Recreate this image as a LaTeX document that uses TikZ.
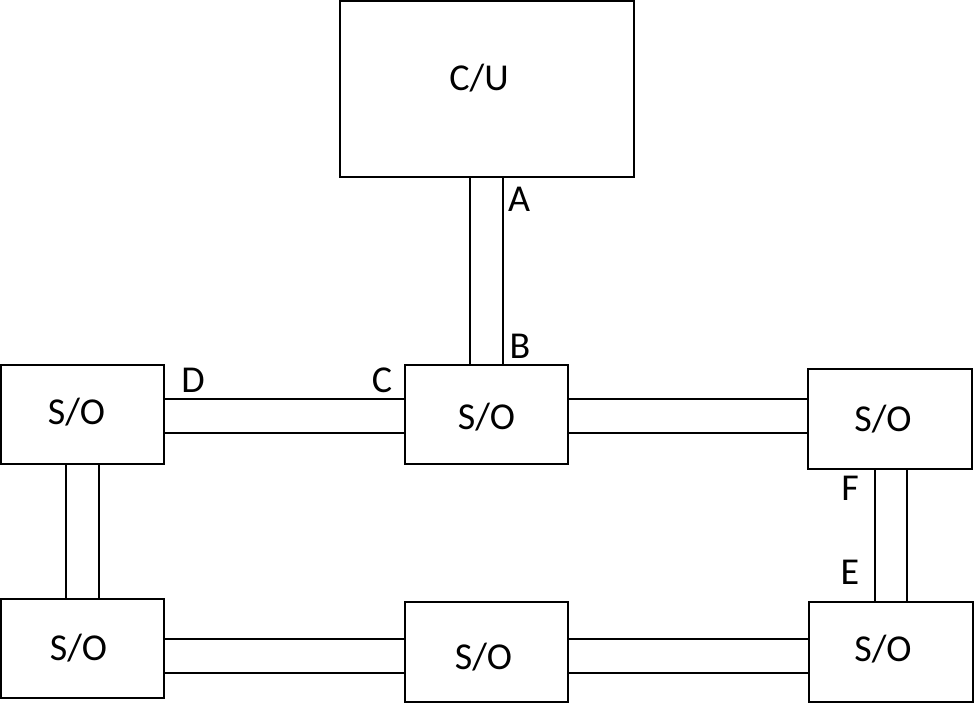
\documentclass[tikz,border=0pt]{standalone}
\usepackage{fontspec}
\setmainfont{Carlito}
\usepackage{tikz}
\usetikzlibrary{positioning}

\begin{document}
\begin{tikzpicture}[
  x=0.75pt, y=-0.75pt,
  every node/.style={font=\fontsize{28.5}{34}\selectfont},
  unit/.style={rectangle, draw, line width=1.2pt, inner sep=0pt, outer sep=0pt, minimum width=122.25pt, minimum height=74.25pt},
  cubox/.style={unit, minimum width=220.5pt, minimum height=132pt},
  pipe/.style={draw, line width=1.2pt},
  tag/.style={inner sep=0pt}
]
\useasboundingbox (0,0) rectangle (974,703);

% control unit and stations
\node[cubox, label={[shift={(-8,-11)}]center:C/U}] (cu) at (487,89) {};
\node[unit, label={[shift={(-6,-2)}]center:S/O}] (so1) at (82.5,414.5) {};
\node[unit, label={[shift={(0,3)}]center:S/O}] (so2) at (486.5,414.5) {};
\node[unit, minimum width=123pt, minimum height=75pt, label={[shift={(-7,0)}]center:S/O}] (so3) at (890,419) {};
\node[unit, label={[shift={(-4,0)}]center:S/O}] (so4) at (82.5,648.5) {};
\node[unit, minimum height=75pt, label={[shift={(-3,5)}]center:S/O}] (so5) at (486.5,652) {};
\node[unit, minimum width=123pt, minimum height=75pt, label={[shift={(-8,-3)}]center:S/O}] (so6) at (891,652) {};

% links (two parallel lines each)
\draw[pipe] (cu.south -| 470,0) -- (so2.north -| 470,0)
            (cu.south -| 503,0) -- (so2.north -| 503,0);
\draw[pipe] (so1.east |- 0,399) -- (so2.west |- 0,399)
            (so1.east |- 0,433) -- (so2.west |- 0,433);
\draw[pipe] (so2.east |- 0,399) -- (so3.west |- 0,399)
            (so2.east |- 0,433) -- (so3.west |- 0,433);
\draw[pipe] (so1.south -| 66,0) -- (so4.north -| 66,0)
            (so1.south -| 99,0) -- (so4.north -| 99,0);
\draw[pipe] (so4.east |- 0,639) -- (so5.west |- 0,639)
            (so4.east |- 0,673) -- (so5.west |- 0,673);
\draw[pipe] (so5.east |- 0,639) -- (so6.west |- 0,639)
            (so5.east |- 0,673) -- (so6.west |- 0,673);
\draw[pipe] (so3.south -| 875,0) rectangle (so6.north -| 907,0);

% port letters
\node[tag] (pa) at (519,199) {A};
\node[tag] (pb) at (520,346) {B};
\node[tag] (pc) at (382,380) {C};
\node[tag] (pd) at (193,380) {D};
\node[tag] (pf) at (850,488) {F};
\node[tag] (pe) at (850,572) {E};
\end{tikzpicture}
\end{document}
